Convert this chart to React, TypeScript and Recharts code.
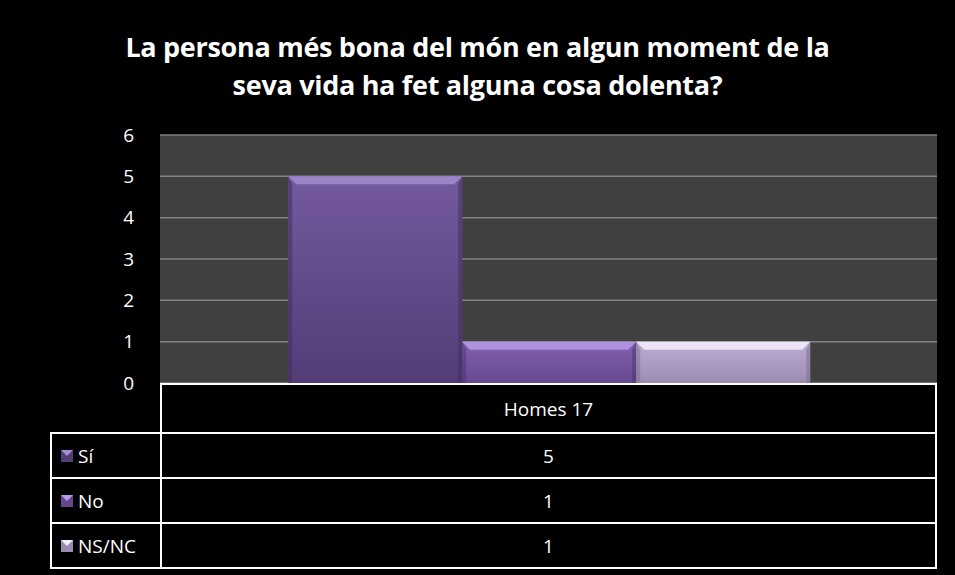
import React from "react";
import { BarChart, Bar, XAxis, YAxis, CartesianGrid } from "recharts";

const categories = ["Homes 17"];
const seriesNames = ["Sí", "No", "NS/NC"];
const seriesValues = [[5], [1], [1]];
const yTicks = [0, 1, 2, 3, 4, 5, 6];
const title = ["La persona més bona del món en algun moment de la", "seva vida ha fet alguna cosa dolenta?"];

const palette = [
  { top: "#745a9e", bottom: "#533c76", light: "#a58cd0", dark: "#3f2c5c" },
  { top: "#8361b0", bottom: "#65488e", light: "#b89ae6", dark: "#4a3470" },
  { top: "#bcadd2", bottom: "#9c8cb2", light: "#f4eefc", dark: "#7c6c92" },
];

const data = categories.map((c, i) => {
  const row: Record<string, string | number> = { category: c };
  seriesNames.forEach((s, j) => (row[s] = seriesValues[j][i]));
  return row;
});

const W = 955;
const H = 575;
const plotLeft = 160;
const plotRight = 937;
const plotTop = 135;
const plotBottom = 383;
const font = "'Open Sans', 'Noto Sans', sans-serif";

function BevelBar(props: any) {
  const { x, y, width, height, idx } = props;
  const c = palette[idx];
  const b = Math.min(8, height / 3);
  const gid = `g${idx}`;
  return (
    <g>
      <defs>
        <linearGradient id={gid} x1="0" y1="0" x2="0" y2="1">
          <stop offset="0%" stopColor={c.top} />
          <stop offset="100%" stopColor={c.bottom} />
        </linearGradient>
      </defs>
      <rect x={x} y={y} width={width} height={height} fill={`url(#${gid})`} />
      <polygon
        points={`${x},${y} ${x + width},${y} ${x + width - b},${y + b} ${x + b},${y + b}`}
        fill={c.light}
        opacity={0.85}
      />
      <polygon
        points={`${x},${y} ${x + b / 2},${y + b} ${x + b / 2},${y + height} ${x},${y + height}`}
        fill={c.dark}
        opacity={0.5}
      />
      <polygon
        points={`${x + width},${y} ${x + width - b / 2},${y + b} ${x + width - b / 2},${y + height} ${x + width},${y + height}`}
        fill={c.dark}
        opacity={0.5}
      />
    </g>
  );
}

function Swatch({ idx }: { idx: number }) {
  const c = palette[idx];
  return (
    <svg width={12} height={12} style={{ marginRight: 5 }}>
      <rect x={0} y={0} width={12} height={12} fill={c.bottom} />
      <polygon points="0,0 12,0 6,6" fill={c.light} />
    </svg>
  );
}

export default function App() {
  const yAxisWidth = 60;
  const rowH = [49, 45, 45, 45];
  const rowTops = [plotBottom, plotBottom + 49, plotBottom + 94, plotBottom + 139];
  const border = "2px solid #ffffff";
  return (
    <div style={{ position: "fixed", left: 0, top: 0, width: W, height: H, background: "#000", fontFamily: font }}>
      <div
        style={{
          position: "absolute",
          left: 0,
          top: 28,
          width: W,
          textAlign: "center",
          color: "#fff",
          fontWeight: 700,
          fontSize: 27,
          lineHeight: "38px",
          letterSpacing: -0.3,
        }}
      >
        {title.map((t) => (
          <div key={t}>{t}</div>
        ))}
      </div>
      <div style={{ position: "absolute", left: 0, top: 0 }}>
        <BarChart
          width={W}
          height={H}
          data={data}
          margin={{ top: plotTop, right: W - plotRight, bottom: H - plotBottom, left: plotLeft - yAxisWidth }}
          barCategoryGap="16.5%"
          barGap={0}
        >
          <CartesianGrid vertical={false} stroke="#828282" strokeWidth={1.5} fill="#404040" fillOpacity={1} />
          <XAxis dataKey="category" hide />
          <YAxis
            width={yAxisWidth}
            domain={[0, 6]}
            ticks={yTicks}
            axisLine={false}
            tickLine={false}
            tickSize={0}
            tickMargin={26}
            tick={{ fill: "#ffffff", fontSize: 19, fontFamily: font }}
          />
          {seriesNames.map((s, i) => (
            <Bar key={s} dataKey={s} isAnimationActive={false} shape={(p: any) => <BevelBar {...p} idx={i} />} />
          ))}
        </BarChart>
      </div>
      {/* data table */}
      <div
        style={{
          position: "absolute",
          left: plotLeft,
          top: rowTops[0],
          width: plotRight - plotLeft,
          height: rowH[0],
          borderTop: border,
          borderLeft: border,
          borderRight: border,
          boxSizing: "border-box",
          color: "#fff",
          fontSize: 19,
          display: "flex",
          alignItems: "center",
          justifyContent: "center",
        }}
      >
        {categories[0]}
      </div>
      {seriesNames.map((s, i) => (
        <React.Fragment key={s}>
          <div
            style={{
              position: "absolute",
              left: 50,
              top: rowTops[i + 1],
              width: plotLeft - 50 + 2,
              height: rowH[i + 1] + 2,
              border: border,
              boxSizing: "border-box",
              color: "#fff",
              fontSize: 19,
              display: "flex",
              alignItems: "center",
              paddingLeft: 9,
            }}
          >
            <Swatch idx={i} />
            {s}
          </div>
          <div
            style={{
              position: "absolute",
              left: plotLeft,
              top: rowTops[i + 1],
              width: plotRight - plotLeft,
              height: rowH[i + 1] + 2,
              border: border,
              boxSizing: "border-box",
              color: "#fff",
              fontSize: 19,
              display: "flex",
              alignItems: "center",
              justifyContent: "center",
            }}
          >
            {seriesValues[i][0]}
          </div>
        </React.Fragment>
      ))}
    </div>
  );
}
